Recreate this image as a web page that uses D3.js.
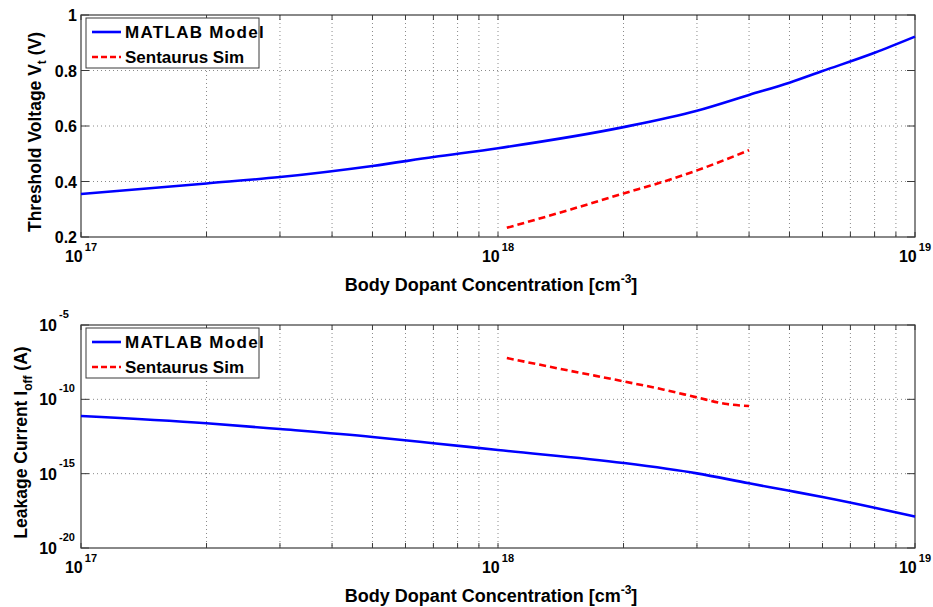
<!DOCTYPE html>
<html>
<head>
<meta charset="utf-8">
<script src="https://cdn.jsdelivr.net/npm/d3@7"></script>
<style>
  html, body { margin: 0; padding: 0; background: #fff; }
  svg { display: block; font-family: "Liberation Sans", Arial, sans-serif; font-weight: bold; }
</style>
</head>
<body>
<svg id="chart" width="933" height="607"></svg>
<script>
// Doping concentration sample points (cm^-3)
const dopingModel = [1e17, 2e17, 3e17, 5e17, 7e17, 1e18, 2e18, 3e18, 4e18, 5e18, 6e18, 8e18, 1e19];
// Threshold voltage from the analytic model (V)
const vtModel = [0.355, 0.393, 0.416, 0.456, 0.488, 0.52, 0.596, 0.655, 0.712, 0.756, 0.798, 0.864, 0.922];
// log10 of off-state leakage from the analytic model (A)
const ioffModelExp = [-11.12, -11.61, -12.0, -12.53, -12.95, -13.41, -14.28, -14.98, -15.65, -16.15, -16.57, -17.29, -17.89];

// TCAD simulation points
const dopingSim = [1.05e18, 1.5e18, 2e18, 2.5e18, 3e18, 3.5e18, 4e18];
const vtSim = [0.233, 0.300, 0.357, 0.400, 0.440, 0.478, 0.513];
const ioffSimExp = [-7.22, -8.1, -8.79, -9.35, -9.87, -10.3, -10.45];

const xTickExps = [17, 18, 19];
const vtTicks = [0.2, 0.4, 0.6, 0.8, 1];
const ioffTickExps = [-20, -15, -10, -5];

const seriesNames = ["MATLAB Model", "Sentaurus Sim"];
const xTitle = "Body Dopant Concentration [cm";

const svg = d3.select("#chart");
const L = 81, R = 915;
const x = d3.scaleLog().domain([1e17, 1e19]).range([L, R]);

// every minor position 1..9 x 10^k
const minorX = [];
for (let e = 17; e < 19; e++) for (let m = 1; m <= 9; m++) minorX.push(m * Math.pow(10, e));
minorX.push(1e19);

const axisColor = "#3a3a3a";
const gridColor = "#8a8a8a";

function panel(top, bottom, y, yTickVals, xs, ys, xs2, ys2) {
  const g = svg.append("g");
  // grid
  g.selectAll(".gx").data(minorX.slice(1, -1)).enter().append("line")
    .attr("x1", d => x(d)).attr("x2", d => x(d))
    .attr("y1", top).attr("y2", bottom)
    .attr("stroke", gridColor).attr("stroke-width", 1).attr("stroke-dasharray", "1,3");
  g.selectAll(".gy").data(yTickVals.slice(1, -1)).enter().append("line")
    .attr("x1", L).attr("x2", R)
    .attr("y1", d => y(d)).attr("y2", d => y(d))
    .attr("stroke", gridColor).attr("stroke-width", 1).attr("stroke-dasharray", "1,3");

  // ticks on all four sides
  const tl = 5;
  g.selectAll(".tb").data(minorX).enter().append("line")
    .attr("x1", d => x(d)).attr("x2", d => x(d))
    .attr("y1", bottom).attr("y2", bottom - tl)
    .attr("stroke", axisColor);
  g.selectAll(".tt").data(minorX).enter().append("line")
    .attr("x1", d => x(d)).attr("x2", d => x(d))
    .attr("y1", top).attr("y2", top + tl)
    .attr("stroke", axisColor);
  g.selectAll(".tyl").data(yTickVals).enter().append("line")
    .attr("x1", L).attr("x2", L + 8)
    .attr("y1", d => y(d)).attr("y2", d => y(d))
    .attr("stroke", axisColor);
  g.selectAll(".tyr").data(yTickVals).enter().append("line")
    .attr("x1", R).attr("x2", R - 8)
    .attr("y1", d => y(d)).attr("y2", d => y(d))
    .attr("stroke", axisColor);

  // box
  g.append("rect").attr("x", L).attr("y", top).attr("width", R - L).attr("height", bottom - top)
    .attr("fill", "none").attr("stroke", axisColor).attr("stroke-width", 1.2);

  // x tick labels 10^k
  xTickExps.forEach(e => {
    const t = g.append("text").attr("x", x(Math.pow(10, e))).attr("y", bottom + 25)
      .attr("font-size", 16).attr("text-anchor", "middle").attr("fill", "#000");
    t.append("tspan").text("10");
    t.append("tspan").attr("dx", 2).attr("dy", -11).attr("font-size", 11).text(String(e));
  });

  // x title
  const xt = g.append("text").attr("x", 491).attr("y", bottom + 54)
    .attr("text-anchor", "middle").attr("font-size", 18).attr("fill", "#000");
  xt.append("tspan").text(xTitle);
  xt.append("tspan").attr("dy", -8).attr("font-size", 12).text("-3");
  xt.append("tspan").attr("dy", 8).text("]");

  // lines
  const line = d3.line().x(d => x(d[0])).y(d => y(d[1])).curve(d3.curveMonotoneX);
  g.append("path").datum(d3.zip(xs, ys)).attr("d", line)
    .attr("fill", "none").attr("stroke", "#0000ff").attr("stroke-width", 2.6);
  g.append("path").datum(d3.zip(xs2, ys2)).attr("d", line)
    .attr("fill", "none").attr("stroke", "#ff0000").attr("stroke-width", 2.6)
    .attr("stroke-dasharray", "7,4");

  // legend
  const lx = 86, ly = top + 3;
  g.append("rect").attr("x", lx).attr("y", ly).attr("width", 173).attr("height", 50)
    .attr("fill", "#fff").attr("stroke", axisColor).attr("stroke-width", 1);
  g.append("line").attr("x1", lx + 6).attr("x2", lx + 35).attr("y1", ly + 14).attr("y2", ly + 14)
    .attr("stroke", "#0000ff").attr("stroke-width", 2.6);
  g.append("line").attr("x1", lx + 6).attr("x2", lx + 35).attr("y1", ly + 39).attr("y2", ly + 39)
    .attr("stroke", "#ff0000").attr("stroke-width", 2.6).attr("stroke-dasharray", "6,3");
  g.append("text").attr("x", lx + 39).attr("y", ly + 20).attr("font-size", 17)
    .attr("letter-spacing", 1.3).attr("fill", "#000").text(seriesNames[0]);
  g.append("text").attr("x", lx + 39).attr("y", ly + 45).attr("font-size", 17)
    .attr("fill", "#000").text(seriesNames[1]);

  return g;
}

// ---- top: threshold voltage ----
const T1 = 15, B1 = 237;
const yVt = d3.scaleLinear().domain([0.2, 1]).range([B1, T1]);
const g1 = panel(T1, B1, yVt, vtTicks, dopingModel, vtModel, dopingSim, vtSim);
vtTicks.forEach(v => {
  g1.append("text").attr("x", 77).attr("y", yVt(v) + 6).attr("text-anchor", "end")
    .attr("font-size", 16).attr("fill", "#000").text(v === 1 ? "1" : v.toFixed(1));
});
const yt1 = g1.append("text").attr("transform", `translate(41,${(T1 + B1) / 2 + 6}) rotate(-90)`)
  .attr("text-anchor", "middle").attr("font-size", 17.5).attr("fill", "#000");
yt1.append("tspan").text("Threshold Voltage V");
yt1.append("tspan").attr("dy", 5).attr("font-size", 12).text("t");
yt1.append("tspan").attr("dy", -5).text(" (V)");

// ---- bottom: leakage current (log) ----
const T2 = 325, B2 = 548;
const yI = d3.scaleLinear().domain([-20, -5]).range([B2, T2]);
const g2 = panel(T2, B2, yI, ioffTickExps, dopingModel, ioffModelExp, dopingSim, ioffSimExp);
ioffTickExps.forEach(e => {
  g2.append("text").attr("x", 57).attr("y", yI(e) + 6).attr("text-anchor", "end")
    .attr("font-size", 16).attr("fill", "#000").text("10");
  g2.append("text").attr("x", 59).attr("y", yI(e) - 7).attr("font-size", 11)
    .attr("fill", "#000").text(String(e));
});
const yt2 = g2.append("text").attr("transform", `translate(27,${(T2 + B2) / 2 + 6}) rotate(-90)`)
  .attr("text-anchor", "middle").attr("font-size", 17.5).attr("fill", "#000");
yt2.append("tspan").text("Leakage Current I");
yt2.append("tspan").attr("dy", 5).attr("font-size", 12).text("off");
yt2.append("tspan").attr("dy", -5).text(" (A)");
</script>
</body>
</html>
